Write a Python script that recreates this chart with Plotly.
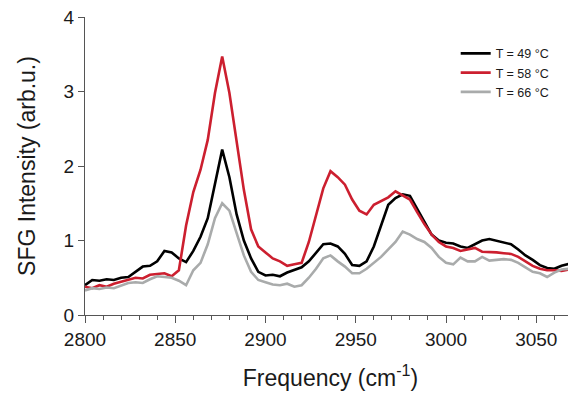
import plotly.graph_objects as go

freq = [2800, 2804, 2808, 2812, 2816, 2820, 2824, 2828, 2832, 2836, 2840, 2844, 2848, 2852,
        2856, 2860, 2864, 2868, 2872, 2876, 2880, 2884, 2888, 2892, 2896, 2900, 2904, 2908,
        2912, 2916, 2920, 2924, 2928, 2932, 2936, 2940, 2944, 2948, 2952, 2956, 2960, 2964,
        2968, 2972, 2976, 2980, 2984, 2988, 2992, 2996, 3000, 3004, 3008, 3012, 3016, 3020,
        3024, 3028, 3032, 3036, 3040, 3044, 3048, 3052, 3056, 3060, 3064, 3068, 3072]

t49 = [0.40, 0.47, 0.46, 0.48, 0.47, 0.50, 0.51, 0.58, 0.65, 0.66, 0.72, 0.86, 0.84, 0.76,
       0.71, 0.86, 1.05, 1.30, 1.78, 2.22, 1.85, 1.35, 1.00, 0.76, 0.58, 0.53, 0.54, 0.52,
       0.57, 0.61, 0.64, 0.72, 0.84, 0.95, 0.96, 0.92, 0.82, 0.67, 0.66, 0.72, 0.92, 1.20,
       1.48, 1.57, 1.62, 1.60, 1.42, 1.25, 1.08, 1.00, 0.97, 0.96, 0.92, 0.90, 0.95, 1.00,
       1.02, 1.00, 0.98, 0.95, 0.88, 0.80, 0.74, 0.67, 0.63, 0.62, 0.66, 0.68, 0.71]

t58 = [0.38, 0.36, 0.40, 0.38, 0.42, 0.45, 0.48, 0.50, 0.49, 0.54, 0.55, 0.56, 0.52, 0.60,
       1.20, 1.65, 1.95, 2.35, 2.98, 3.47, 2.98, 2.35, 1.68, 1.15, 0.92, 0.84, 0.76, 0.72,
       0.66, 0.68, 0.70, 0.98, 1.35, 1.70, 1.93, 1.85, 1.75, 1.55, 1.40, 1.35, 1.48, 1.53,
       1.58, 1.66, 1.60, 1.55, 1.38, 1.22, 1.08, 0.98, 0.92, 0.90, 0.86, 0.88, 0.90, 0.85,
       0.85, 0.84, 0.83, 0.82, 0.78, 0.72, 0.66, 0.62, 0.60, 0.60, 0.59, 0.61, 0.64]

t66 = [0.33, 0.36, 0.35, 0.37, 0.36, 0.40, 0.43, 0.44, 0.43, 0.48, 0.52, 0.51, 0.50, 0.46,
       0.40, 0.60, 0.70, 0.95, 1.30, 1.50, 1.40, 1.10, 0.80, 0.58, 0.47, 0.44, 0.41, 0.40,
       0.42, 0.38, 0.40, 0.50, 0.62, 0.76, 0.80, 0.72, 0.65, 0.56, 0.56, 0.62, 0.70, 0.78,
       0.88, 0.98, 1.12, 1.08, 1.02, 0.98, 0.90, 0.78, 0.70, 0.68, 0.77, 0.72, 0.72, 0.78,
       0.73, 0.74, 0.75, 0.74, 0.70, 0.64, 0.58, 0.56, 0.51, 0.57, 0.61, 0.62, 0.63]

series_names = ["T = 49 °C", "T = 58 °C", "T = 66 °C"]
series_colors = ["#000000", "#cc1f2f", "#a9abab"]

FONT = "Liberation Sans, Arial, sans-serif"

fig = go.Figure()
for name, vals, col in zip(series_names, [t49, t58, t66], series_colors):
    fig.add_trace(go.Scatter(x=freq, y=vals, mode="lines", name=name,
                             line=dict(color=col, width=2.6)))

# page body has an 8px margin, so the figure is 8px smaller and margins shifted
fig.update_layout(
    width=568, height=385,
    margin=dict(l=77, r=0, t=9, b=78, autoexpand=False),
    paper_bgcolor="white", plot_bgcolor="white",
    font=dict(family=FONT, color="#1a1a1a"),
    showlegend=True,
    legend=dict(x=0.755, y=0.927, xanchor="left", yanchor="top",
                font=dict(size=12.5, family=FONT, color="#1a1a1a"),
                bgcolor="rgba(0,0,0,0)", tracegroupgap=0),
    xaxis=dict(range=[2800, 3072], tickmode="linear", tick0=2800, dtick=50,
               ticks="outside", ticklen=7, automargin=False, ticklabeloverflow="allow",
               tickwidth=1.2, tickcolor="#555", showline=True, linecolor="#555",
               linewidth=1.2, showgrid=False, zeroline=False,
               tickfont=dict(size=19, family=FONT, color="#1a1a1a"),
               minor=dict(tickmode="linear", tick0=2800, dtick=10, ticks="outside",
                          ticklen=4, tickcolor="#555", tickwidth=1.2, showgrid=False),
               title=dict(text="Frequency (cm<sup>-1</sup>)", standoff=20,
                          font=dict(size=23, family=FONT, color="#1a1a1a"))),
    yaxis=dict(range=[0, 4], tickmode="linear", tick0=0, dtick=1, ticks="outside",
               ticklen=6, automargin=False, ticklabeloverflow="allow",
               tickwidth=1.2, tickcolor="#555", showline=True, linecolor="#555",
               linewidth=1.2, showgrid=False, zeroline=False,
               tickfont=dict(size=19, family=FONT, color="#1a1a1a"),
               title=dict(text="SFG Intensity (arb.u.)", standoff=21,
                          font=dict(size=23, family=FONT, color="#1a1a1a"))),
)

fig.write_html("out.html")
